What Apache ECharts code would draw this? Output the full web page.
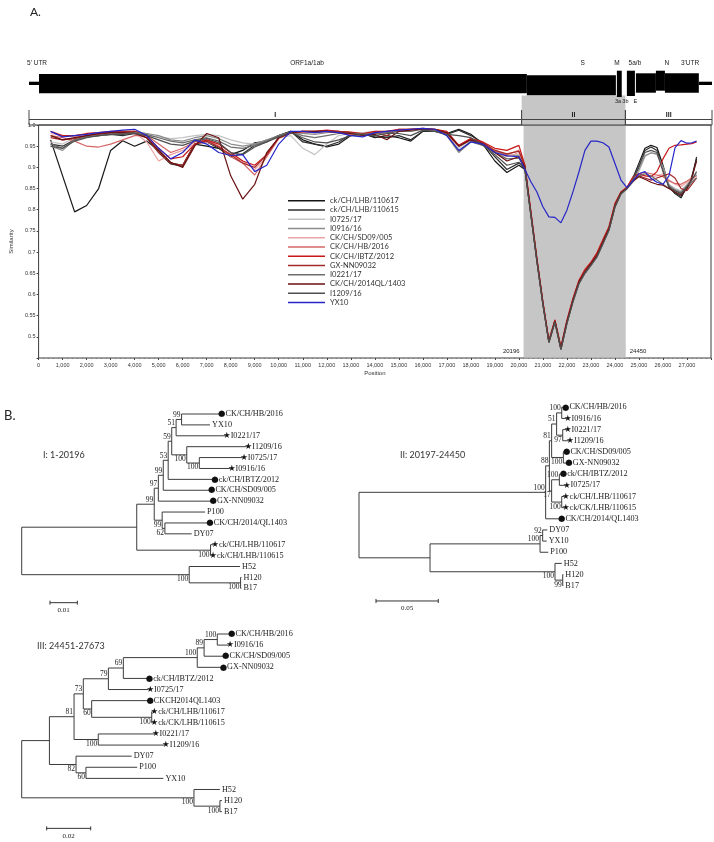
<!DOCTYPE html>
<html><head><meta charset="utf-8">
<script src="https://cdn.jsdelivr.net/npm/echarts@6/dist/echarts.min.js"></script>
<style>html,body{margin:0;padding:0;background:#fff}#c{width:714px;height:842px}</style>
</head><body><div id="c"></div>
<script>
// ===================== DATA =====================
// Genome positions (bp) at which similarity values were read
const POSITIONS = [500,1000,1500,2000,2500,3000,3500,4000,4500,5000,5500,6000,6500,7000,7500,8000,8500,9000,9500,10000,
  10500,11000,11500,12000,12500,13000,13500,14000,14500,15000,15500,16000,16500,17000,17500,18000,18500,19000,19500,20000,
  20250,20500,20750,21000,21250,21500,21750,22000,22250,22500,22750,23000,23250,23500,23750,24000,24250,24500,
  24750,25000,25250,25500,25750,26000,26250,26500,26750,27000,27200,27400];

const SIM_LHB110617 = [0.965,0.88,0.795,0.81,0.85,0.94,0.963,0.95,0.962,0.94,0.91,0.905,0.955,0.95,0.945,0.93,0.94,0.958,0.962,0.975,
  0.985,0.965,0.955,0.948,0.955,0.975,0.98,0.97,0.975,0.97,0.962,0.985,0.987,0.98,0.99,0.978,0.955,0.915,0.888,0.905,
  0.895,0.788,0.679,0.577,0.487,0.535,0.47,0.532,0.583,0.626,0.65,0.669,0.689,0.72,0.752,0.807,0.838,0.85,
  0.875,0.91,0.945,0.952,0.947,0.905,0.855,0.838,0.828,0.855,0.878,0.92];
const SIM_LHB110615 = [0.955,0.95,0.965,0.972,0.975,0.978,0.975,0.98,0.97,0.935,0.908,0.902,0.955,0.96,0.945,0.925,0.932,0.952,0.96,0.975,
  0.985,0.96,0.955,0.95,0.96,0.978,0.98,0.972,0.97,0.975,0.965,0.985,0.985,0.978,0.988,0.975,0.958,0.925,0.895,0.91,
  0.898,0.79,0.68,0.578,0.488,0.537,0.472,0.534,0.585,0.628,0.652,0.671,0.69,0.722,0.754,0.809,0.84,0.851,
  0.87,0.9,0.94,0.948,0.94,0.895,0.852,0.84,0.832,0.852,0.872,0.925];
const SIM_I0725 = [0.96,0.955,0.97,0.975,0.978,0.98,0.982,0.98,0.975,0.972,0.968,0.97,0.975,0.978,0.975,0.965,0.958,0.955,0.965,0.97,
  0.975,0.945,0.93,0.955,0.975,0.98,0.982,0.985,0.985,0.988,0.99,0.99,0.988,0.975,0.945,0.965,0.955,0.94,0.93,0.93,
  0.9,0.79,0.68,0.578,0.487,0.536,0.471,0.533,0.584,0.627,0.651,0.67,0.69,0.721,0.753,0.808,0.839,0.85,
  0.87,0.89,0.925,0.935,0.93,0.9,0.86,0.85,0.845,0.86,0.875,0.885];
const SIM_I0916 = [0.95,0.94,0.965,0.972,0.978,0.98,0.982,0.985,0.98,0.975,0.965,0.962,0.97,0.975,0.968,0.955,0.95,0.955,0.965,0.975,
  0.982,0.98,0.978,0.982,0.985,0.982,0.978,0.982,0.985,0.988,0.99,0.99,0.988,0.975,0.935,0.96,0.952,0.938,0.928,0.928,
  0.9,0.79,0.68,0.578,0.488,0.536,0.472,0.533,0.584,0.627,0.651,0.67,0.69,0.721,0.753,0.808,0.839,0.85,
  0.868,0.895,0.928,0.934,0.932,0.9,0.858,0.848,0.842,0.858,0.872,0.882];
const SIM_SD09 = [0.98,0.975,0.972,0.978,0.98,0.982,0.985,0.982,0.96,0.915,0.93,0.94,0.955,0.96,0.95,0.93,0.915,0.895,0.925,0.97,
  0.982,0.985,0.983,0.985,0.982,0.98,0.978,0.982,0.985,0.988,0.99,0.99,0.988,0.978,0.95,0.965,0.955,0.935,0.925,0.935,
  0.902,0.792,0.682,0.58,0.49,0.538,0.474,0.536,0.587,0.63,0.654,0.673,0.693,0.724,0.756,0.81,0.84,0.852,
  0.872,0.88,0.882,0.878,0.88,0.885,0.87,0.86,0.855,0.865,0.87,0.875];
const SIM_HB2016 = [0.975,0.97,0.962,0.95,0.948,0.955,0.965,0.975,0.975,0.955,0.935,0.945,0.96,0.965,0.95,0.925,0.91,0.882,0.925,0.968,
  0.98,0.983,0.982,0.985,0.982,0.978,0.976,0.98,0.982,0.986,0.99,0.99,0.988,0.98,0.952,0.968,0.958,0.94,0.93,0.94,
  0.905,0.795,0.685,0.583,0.493,0.54,0.477,0.54,0.59,0.633,0.66,0.676,0.697,0.728,0.758,0.812,0.842,0.853,
  0.875,0.885,0.888,0.885,0.882,0.878,0.868,0.862,0.86,0.868,0.875,0.88];
const SIM_IBTZ = [0.985,0.975,0.975,0.98,0.982,0.985,0.985,0.985,0.975,0.945,0.92,0.925,0.955,0.965,0.955,0.935,0.915,0.905,0.93,0.97,
  0.982,0.985,0.985,0.988,0.985,0.983,0.98,0.985,0.985,0.99,0.99,0.992,0.99,0.985,0.952,0.968,0.96,0.945,0.94,0.952,
  0.905,0.795,0.685,0.582,0.49,0.54,0.475,0.538,0.59,0.633,0.658,0.676,0.698,0.73,0.76,0.815,0.842,0.853,
  0.878,0.885,0.88,0.878,0.89,0.92,0.945,0.952,0.953,0.955,0.956,0.96];
const SIM_GXNN = [0.97,0.965,0.968,0.975,0.978,0.982,0.985,0.985,0.97,0.935,0.91,0.905,0.955,0.962,0.948,0.93,0.91,0.9,0.93,0.97,
  0.982,0.985,0.985,0.986,0.985,0.982,0.978,0.982,0.975,0.99,0.99,0.99,0.99,0.98,0.95,0.965,0.958,0.94,0.932,0.938,
  0.903,0.793,0.683,0.581,0.49,0.538,0.474,0.536,0.587,0.63,0.655,0.674,0.694,0.726,0.757,0.811,0.841,0.852,
  0.87,0.88,0.875,0.87,0.875,0.88,0.885,0.875,0.85,0.845,0.86,0.875];
const SIM_I0221 = [0.955,0.945,0.965,0.972,0.975,0.978,0.98,0.982,0.978,0.97,0.962,0.958,0.965,0.97,0.962,0.948,0.945,0.952,0.962,0.975,
  0.983,0.975,0.97,0.975,0.98,0.98,0.978,0.98,0.982,0.985,0.985,0.99,0.988,0.976,0.938,0.962,0.952,0.935,0.92,0.922,
  0.896,0.787,0.678,0.576,0.486,0.534,0.47,0.531,0.582,0.625,0.65,0.668,0.688,0.719,0.751,0.806,0.837,0.849,
  0.866,0.88,0.885,0.88,0.87,0.86,0.85,0.845,0.84,0.85,0.865,0.875];
const SIM_QL1403 = [0.975,0.965,0.97,0.975,0.98,0.982,0.982,0.98,0.97,0.94,0.912,0.9,0.95,0.98,0.97,0.88,0.825,0.86,0.935,0.97,
  0.982,0.985,0.985,0.985,0.982,0.98,0.975,0.978,0.965,0.985,0.988,0.99,0.99,0.982,0.95,0.965,0.955,0.935,0.915,0.925,
  0.9,0.79,0.681,0.579,0.488,0.537,0.473,0.535,0.586,0.629,0.653,0.672,0.692,0.723,0.755,0.809,0.84,0.851,
  0.868,0.878,0.872,0.865,0.86,0.858,0.85,0.842,0.835,0.85,0.875,0.915];
const SIM_I1209 = [0.95,0.945,0.962,0.97,0.975,0.978,0.978,0.98,0.975,0.965,0.955,0.952,0.962,0.968,0.958,0.935,0.93,0.948,0.96,0.972,
  0.982,0.97,0.96,0.958,0.965,0.975,0.978,0.975,0.98,0.98,0.975,0.988,0.985,0.978,0.975,0.97,0.952,0.93,0.905,0.912,
  0.897,0.788,0.679,0.577,0.487,0.535,0.471,0.532,0.583,0.626,0.651,0.669,0.689,0.72,0.752,0.807,0.838,0.85,
  0.872,0.905,0.935,0.94,0.935,0.89,0.855,0.845,0.838,0.855,0.87,0.89];
const SIM_YX10 = [0.985,0.972,0.975,0.978,0.982,0.985,0.988,0.99,0.975,0.945,0.92,0.935,0.965,0.955,0.935,0.928,0.93,0.89,0.905,0.955,
  0.985,0.985,0.982,0.985,0.982,0.975,0.972,0.982,0.985,0.988,0.99,0.992,0.99,0.975,0.94,0.96,0.955,0.935,0.927,0.925,
  0.895,0.866,0.842,0.807,0.783,0.782,0.769,0.799,0.842,0.889,0.94,0.962,0.962,0.958,0.948,0.909,0.87,0.852,
  0.868,0.885,0.89,0.874,0.865,0.86,0.88,0.946,0.963,0.957,0.958,0.962];

const STRAIN_NAMES = ['ck/CH/LHB/110617','ck/CH/LHB/110615','I0725/17','I0916/16','CK/CH/SD09/005','CK/CH/HB/2016',
  'CK/CH/IBTZ/2012','GX-NN09032','I0221/17','CK/CH/2014QL/1403','I1209/16','YX10'];
const STRAIN_VALUES = [SIM_LHB110617,SIM_LHB110615,SIM_I0725,SIM_I0916,SIM_SD09,SIM_HB2016,SIM_IBTZ,SIM_GXNN,SIM_I0221,SIM_QL1403,SIM_I1209,SIM_YX10];

// Regions of the genome (bp)
const REGIONS = [['I',0,20196],['II',20196,24450],['III',24450,28000]];
const BOUNDARY_LABELS = [20196, 24450];

// Genome map (bp)
const GENOME_SEGMENTS = [["5'UTR",0,410],['ORF1a/1ab',410,20410],['S',20410,24060],['3a/3b',24100,24300],['E',24510,24840],
  ['M-5a/b',24880,25700],['N',25700,26070],['N-tail',26070,27460],["3'UTR",27460,28000]];
const GENE_LABELS = [["5' UTR",330],['ORF1a/1ab',11400],['S',22700],['M',24100],['5a/b',24840],['N',26150],["3'UTR",27100]];
const SUB_LABELS = [['3a',24150],['3b',24450],['E',24860]];

// Phylogenetic trees (Newick; number after ':' = distance from root)
const TREE_I = "(((((((((CK/CH/HB/2016:0.0726,YX10:0.0689)99:0.0585,I0221/17:0.0744)51:0.0565,(I1209/16:0.0823,(I0725/17:0.0807,I0916/16:0.0762)100:0.0650)100:0.0604)59:0.0549,ck/CH/IBTZ/2012:0.0701)53:0.0536,CK/CH/SD09/005:0.0689)99:0.0518,GX-NN09032:0.0695)97:0.0500,(P100:0.0671,(CK/CH/2014/QL1403:0.0683,DY07:0.0622)62:0.0524)99:0.0514)99:0.0485,(ck/CH/LHB/110617:0.0701,ck/CH/LHB/110615:0.0694)100:0.0691):0.0421,(H52:0.0799,(H120:0.0804,B17:0.0804)100:0.0801)100:0.0613)";
const TREE_II = "((((((CK/CH/HB/2016:0.1645,I0916/16:0.1661)100:0.1627,(I0221/17:0.1661,I1209/16:0.1680)97:0.1635)51:0.1586,(CK/CH/SD09/005:0.1653,GX-NN09032:0.1672)100:0.1640)81:0.1546,((ck/CH/IBTZ/2012:0.1627,I0725/17:0.1653)100:0.1608,(ck/CH/LHB/110617:0.1645,ck/CK/LHB/110615:0.1645)100:0.1627)17:0.1546)88:0.1528,CK/CH/2014/QL1403:0.1613)100:0.1498,(((DY07:0.1511,YX10:0.1506)92:0.1474,P100:0.1519)100:0.1453,(H52:0.1627,(H120:0.1640,B17:0.1640)99:0.1635)100:0.1573):0.0570)";
const TREE_III = "(((((((((CK/CH/HB/2016:0.0947,I0916/16:0.0939)100:0.0889,CK/CH/SD09/005:0.0920)89:0.0829,GX-NN09032:0.0909)100:0.0798,ck/CH/IBTZ/2012:0.0573)69:0.0462,I0725/17:0.0576)79:0.0394,(CKCH2014QL1403:0.0576,(ck/CH/LHB/110617:0.0595,ck/CK/LHB/110615:0.0595)100:0.0591)60:0.0318)73:0.0280,(I0221/17:0.0601,I1209/16:0.0647)100:0.0348)81:0.0238,(DY07:0.0500,(P100:0.0525,YX10:0.0644)60:0.0292)82:0.0247):0.0126,(H52:0.0901,(H120:0.0910,B17:0.0910)100:0.0901)100:0.0783)";
const TREE_TITLES = ['I: 1-20196','II: 20197-24450','III: 24451-27673'];
const SCALE_BARS = [0.01, 0.05, 0.02];
const CIRCLE_STRAINS = ['CK/CH/HB/2016','ck/CH/IBTZ/2012','CK/CH/SD09/005','GX-NN09032','CK/CH/2014/QL1403','CKCH2014QL1403'];
const STAR_STRAINS = ['I0221/17','I1209/16','I0725/17','I0916/16','ck/CH/LHB/110617','ck/CH/LHB/110615','ck/CK/LHB/110615'];

// ===================== STYLE =====================
const LINE_COLORS = ['#151515','#2e2e2e','#c4c4c4','#8c8c8c','#eba3a3','#d66767','#c81818','#a32828','#6e6e6e','#6a1010','#4f4f4f','#2626c8'];
const SEG_STYLE = {"5'UTR":[26.7,30],'ORF1a/1ab':[19,38.3],'S':[20.3,40.3],'3a/3b':[15.7,42],'E':[15.7,41],
  'M-5a/b':[18.3,37.7],'N':[15.7,35.7],'N-tail':[18.3,37.7],"3'UTR":[26.7,30]};
const BAND = '#c6c6c6';
const TREE_LAYOUT = [
  {grid:{left:21.7,top:414,width:300.6,height:174.3}, xmax:0.11, bar:[0.01035,17.32]},
  {grid:{left:359,top:407.3,width:311.5,height:178.4}, xmax:0.25, bar:[0.01364,17.37]},
  {grid:{left:21.7,top:634,width:264,height:177.7}, xmax:0.12, bar:[0.01136,17.5]}
];

// ===================== HELPERS =====================
function parseNewick(s){
  let i=0;
  function node(){
    const n={children:[]};
    if(s[i]==='('){ i++; n.children.push(node()); while(s[i]===','){ i++; n.children.push(node()); } i++; }
    let lab=''; while(i<s.length && !',():;'.includes(s[i])) lab+=s[i++];
    if(n.children.length) n.boot=lab; else n.name=lab;
    n.depth=0;
    if(s[i]===':'){ i++; let num=''; while(i<s.length && !',();'.includes(s[i])) num+=s[i++]; n.depth=parseFloat(num); }
    return n;
  }
  return node();
}
function layoutTree(root){
  const nodes=[]; let leaf=0;
  (function walk(n,parent,isFirst){
    n.parent=parent; n.isFirst=isFirst;
    n.children.forEach((c,k)=>walk(c,n,k===0));
    if(!n.children.length){ n.y=leaf++; }
    else { n.yTop=n.children[0].y; n.yBot=n.children[n.children.length-1].y; n.y=(n.yTop+n.yBot)/2; }
    nodes.push(n);
  })(root,null,true);
  return nodes;
}
const fmtThousands = v => String(v).replace(/\B(?=(\d{3})+(?!\d))/g, ',');
const TREE_LINE = {stroke:'#3c3c3c', lineWidth:1};

function treeRender(nodes){
  return function(params, api){
    const n = nodes[params.dataIndex];
    const ch = [];
    const p = api.coord([n.depth, n.y]);
    if(n.parent){
      const pp = api.coord([n.parent.depth, n.y]);
      ch.push({type:'line', shape:{x1:pp[0], y1:p[1], x2:p[0], y2:p[1]}, style:TREE_LINE});
    }
    if(n.children.length){
      const a = api.coord([n.depth, n.yTop]), b = api.coord([n.depth, n.yBot]);
      ch.push({type:'line', shape:{x1:p[0], y1:a[1], x2:p[0], y2:b[1]}, style:TREE_LINE});
      if(n.boot){
        ch.push({type:'text', x:p[0]-1, y: n.isFirst ? p[1]-0.5 : p[1]+0.5,
          style:{text:n.boot, align:'right', verticalAlign: n.isFirst?'bottom':'top', fontSize:7.5,
                 fontFamily:'Liberation Serif', fill:'#222'}});
      }
    } else {
      const mk = CIRCLE_STRAINS.includes(n.name) ? '●' : (STAR_STRAINS.includes(n.name) ? '★' : '');
      ch.push({type:'text', x: p[0] + (mk ? -2 : 2), y:p[1],
        style:{text: mk ? '{m|'+mk+'}{n|'+n.name+'}' : '{n|'+n.name+'}',
          verticalAlign:'middle', align:'left',
          rich:{m:{fontSize:8.5, fontFamily:'DejaVu Sans', fill:'#111'},
                n:{fontSize:8.2, fontFamily:'Liberation Serif', fill:'#222'}}}});
    }
    return {type:'group', children:ch};
  };
}

// ===================== OPTION =====================
const chart = echarts.init(document.getElementById('c'));
const grids = [
  {left:29, width:683, top:55, height:70},
  {left:29, width:683, top:125, height:233, show:true, borderColor:'#3a3a3a', borderWidth:1, backgroundColor:'transparent'}
];
const xAxes = [
  {gridIndex:0, type:'value', min:0, max:28000, show:false},
  {gridIndex:1, type:'value', min:0, max:28000, interval:1000, splitLine:{show:false},
   axisLine:{show:false}, axisTick:{show:true, length:2, lineStyle:{color:'#444'}},
   minorTick:{show:true, splitNumber:5, length:1, lineStyle:{color:'#777'}},
   axisLabel:{fontSize:5.5, color:'#333', margin:4, fontFamily:'Liberation Sans', formatter:v=> v>27000?'':fmtThousands(v)},
   name:'Position', nameLocation:'middle', nameGap:12, nameTextStyle:{fontSize:6, color:'#333', fontFamily:'Liberation Sans'}}
];
const yAxes = [
  {gridIndex:0, type:'value', min:0, max:70, inverse:true, show:false},
  {gridIndex:1, type:'value', min:0.45, max:1.0, interval:0.05, splitLine:{show:false},
   axisLine:{show:false}, axisTick:{show:true, length:2, lineStyle:{color:'#444'}},
   axisLabel:{fontSize:5.5, color:'#333', margin:3, fontFamily:'Liberation Sans',
     formatter:v=>{ const r=Math.round(v*100)/100; if(r<0.5) return ''; return r===1?'1.0':String(r);} },
   name:'Similarity', nameLocation:'middle', nameGap:19, nameRotate:90, nameTextStyle:{fontSize:6, color:'#333', fontFamily:'Liberation Sans'}}
];
const series = [];

// Genome map
series.push({type:'custom', xAxisIndex:0, yAxisIndex:0, z:3, silent:true,
  data: GENOME_SEGMENTS.map(s=>[s[1], s[2]]),
  renderItem:(params, api)=>{
    const s = GENOME_SEGMENTS[params.dataIndex]; const st = SEG_STYLE[s[0]];
    const a = api.coord([s[1], st[0]]), b = api.coord([s[2], st[1]]);
    return {type:'rect', shape:{x:a[0], y:a[1], width:b[0]-a[0], height:b[1]-a[1]}, style:{fill:'#000'}};
  }});
series.push({type:'custom', xAxisIndex:0, yAxisIndex:0, z:3, silent:true,
  data: GENE_LABELS.map(g=>[g[1], 8]),
  renderItem:(params, api)=>{
    const g = GENE_LABELS[params.dataIndex]; const p = api.coord([g[1], 8]);
    return {type:'text', x:p[0], y:p[1], style:{text:g[0], align:'center', verticalAlign:'middle', fontSize:6.5, fontFamily:'Liberation Sans', fill:'#222'}};
  }});
series.push({type:'custom', xAxisIndex:0, yAxisIndex:0, z:3, silent:true,
  data: SUB_LABELS.map(g=>[g[1], 46.7]),
  renderItem:(params, api)=>{
    const g = SUB_LABELS[params.dataIndex]; const p = api.coord([g[1], 46.7]);
    return {type:'text', x:p[0], y:p[1], style:{text:g[0], align:'center', verticalAlign:'middle', fontSize:5.5, fontFamily:'Liberation Sans', fill:'#222'}};
  }});
// Region box + grey band (map grid)
series.push({type:'custom', xAxisIndex:0, yAxisIndex:0, z:2, silent:true,
  data: REGIONS.map(r=>[r[1], r[2]]),
  renderItem:(params, api)=>{
    const r = REGIONS[params.dataIndex]; const ch=[];
    const a = api.coord([r[1], 55]), b = api.coord([r[2], 70]);
    if(r[0]==='II'){
      const t = api.coord([r[1], 40.5]);
      ch.push({type:'rect', shape:{x:a[0], y:t[1], width:b[0]-a[0], height:b[1]-t[1]}, style:{fill:BAND}});
    }
    const h = api.coord([r[1], 64.5]), h2 = api.coord([r[2], 64.5]);
    ch.push({type:'line', shape:{x1:h[0], y1:h[1], x2:h2[0], y2:h2[1]}, style:{stroke:'#444', lineWidth:1}});
    ch.push({type:'line', shape:{x1:a[0], y1:b[1], x2:b[0], y2:b[1]}, style:{stroke:'#444', lineWidth:1}});
    ch.push({type:'line', shape:{x1:a[0], y1:a[1], x2:a[0], y2:b[1]}, style:{stroke:'#444', lineWidth:1}});
    ch.push({type:'line', shape:{x1:b[0], y1:a[1], x2:b[0], y2:b[1]}, style:{stroke:'#444', lineWidth:1}});
    const c = api.coord([(r[1]+r[2])/2, 59.7]);
    ch.push({type:'text', x:c[0], y:c[1], style:{text:r[0], align:'center', verticalAlign:'middle', fontSize:7, fontWeight:'bold', fontFamily:'Liberation Sans', fill:'#222'}});
    return {type:'group', children:ch};
  }});
// Grey band in similarity grid
series.push({type:'custom', xAxisIndex:1, yAxisIndex:1, z:1, silent:true,
  data: [[REGIONS[1][1], REGIONS[1][2]]],
  renderItem:(params, api)=>{
    const cs = params.coordSys; const a = api.coord([api.value(0), 1]), b = api.coord([api.value(1), 1]);
    return {type:'rect', shape:{x:a[0], y:cs.y+1, width:b[0]-a[0], height:cs.height-1.5}, style:{fill:BAND}};
  }});
// Boundary labels
series.push({type:'custom', xAxisIndex:1, yAxisIndex:1, z:4, silent:true,
  data: BOUNDARY_LABELS.map(v=>[v, 0.465]),
  renderItem:(params, api)=>{
    const v = BOUNDARY_LABELS[params.dataIndex]; const p = api.coord([v, 0.465]);
    const first = params.dataIndex===0;
    return {type:'text', x:p[0] + (first?-4:4), y:p[1], style:{text:String(v), align:first?'right':'left', verticalAlign:'middle', fontSize:6, fontFamily:'Liberation Sans', fill:'#222'}};
  }});
// Similarity lines
STRAIN_NAMES.forEach((nm, k)=>{
  series.push({type:'line', name:nm, xAxisIndex:1, yAxisIndex:1, z:2+k*0.01, clip:false,
    data: POSITIONS.map((p,i)=>[p, STRAIN_VALUES[k][i]]),
    showSymbol:false, symbol:'none', smooth:false,
    lineStyle:{color:LINE_COLORS[k], width:1.2}, itemStyle:{color:LINE_COLORS[k]}, emphasis:{disabled:true}});
});

// Trees
const TREES = [TREE_I, TREE_II, TREE_III];
TREES.forEach((nw, t)=>{
  const nodes = layoutTree(parseNewick(nw));
  const L = TREE_LAYOUT[t];
  grids.push(L.grid);
  xAxes.push({gridIndex:2+t, type:'value', min:0, max:L.xmax, show:false});
  yAxes.push({gridIndex:2+t, type:'value', min:0, max:16, inverse:true, show:false});
  series.push({type:'custom', xAxisIndex:2+t, yAxisIndex:2+t, silent:true, clip:false,
    data: nodes.map(n=>[n.depth, n.y]), renderItem: treeRender(nodes)});
  series.push({type:'custom', xAxisIndex:2+t, yAxisIndex:2+t, silent:true, clip:false,
    data: [[L.bar[0], L.bar[1], SCALE_BARS[t]]],
    renderItem:(params, api)=>{
      const x0 = api.value(0), y = api.value(1), len = api.value(2);
      const a = api.coord([x0, y]), b = api.coord([x0+len, y]);
      const st = {stroke:'#333', lineWidth:1};
      return {type:'group', children:[
        {type:'line', shape:{x1:a[0], y1:a[1], x2:b[0], y2:b[1]}, style:st},
        {type:'line', shape:{x1:a[0], y1:a[1]-2, x2:a[0], y2:a[1]+2}, style:st},
        {type:'line', shape:{x1:b[0], y1:b[1]-2, x2:b[0], y2:b[1]+2}, style:st},
        {type:'text', x:(a[0]+b[0])/2, y:a[1]+4, style:{text:String(len), align:'center', verticalAlign:'top', fontSize:7, fontFamily:'Liberation Serif', fill:'#222'}}
      ]};
    }});
});

const option = {
  animation:false,
  backgroundColor:'#fff',
  grid: grids, xAxis: xAxes, yAxis: yAxes, series: series,
  legend:{data:STRAIN_NAMES, orient:'vertical', left:283, top:191.7, icon:'rect', itemWidth:37, itemHeight:1.5, itemGap:1.25,
    selectedMode:false, textStyle:{fontSize:7.5, lineHeight:8, color:'#333', fontFamily:'Lato'}},
  graphic:[
    {type:'text', left:30, top:6, style:{text:'A.', fontSize:12, fontFamily:'Lato', fill:'#222'}},
    {type:'text', left:4, top:409, style:{text:'B.', fontSize:13, fontFamily:'Lato', fill:'#222'}},
    {type:'text', left:43, top:451, style:{text:TREE_TITLES[0], fontSize:9, fontFamily:'Lato', fill:'#333'}},
    {type:'text', left:400, top:451, style:{text:TREE_TITLES[1], fontSize:9, fontFamily:'Lato', fill:'#333'}},
    {type:'text', left:37, top:642, style:{text:TREE_TITLES[2], fontSize:9, fontFamily:'Lato', fill:'#333'}}
  ]
};
chart.setOption(option);
</script>
</body></html>
